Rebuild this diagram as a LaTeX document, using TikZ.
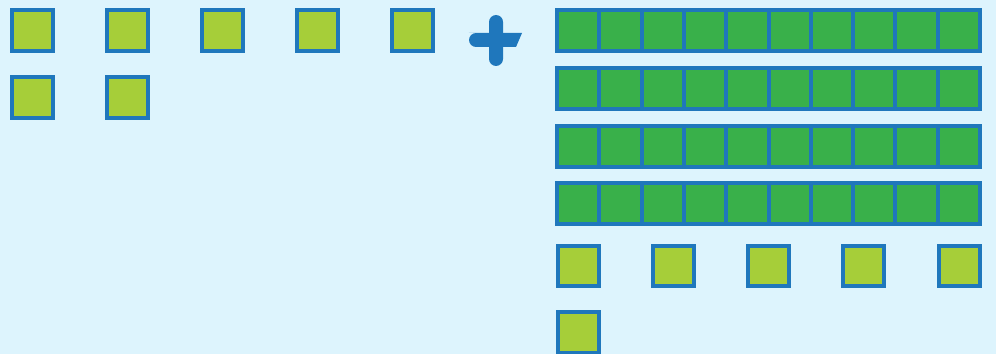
\documentclass[tikz,border=0pt]{standalone}
\definecolor{bgblue}{HTML}{DDF4FD}
\definecolor{edgeblue}{HTML}{1F77BC}
\definecolor{onegreen}{HTML}{A6CE39}
\definecolor{tengreen}{HTML}{39B04A}
\begin{document}
\begin{tikzpicture}[x=0.02cm,y=-0.02cm,
 unit/.style={draw=edgeblue,fill=onegreen,line width=0.08cm,inner sep=0pt,outer sep=0pt,minimum size=0.82cm},
 rodcell/.style={draw=edgeblue,fill=tengreen,line width=0.08cm,inner sep=0pt,outer sep=0pt,minimum width=0.846cm,minimum height=0.82cm}]
 \fill[bgblue] (0,0) rectangle (996,354);
 \useasboundingbox (0,0) rectangle (996,354);
 % first number: seven ones
 \node[unit] (a1) at (32.5,30.5) {};
 \node[unit] (a2) at (127.5,30.5) {};
 \node[unit] (a3) at (222.5,30.5) {};
 \node[unit] (a4) at (317.5,30.5) {};
 \node[unit] (a5) at (412.5,30.5) {};
 \node[unit] (a6) at (32.5,97.5) {};
 \node[unit] (a7) at (127.5,97.5) {};
 % plus sign
 \fill[edgeblue,rounded corners=4pt] (489,15) rectangle (503,66);
 \fill[edgeblue,rounded corners=4pt] (476,47) -- (469,47) -- (469,33) -- (476,33)
   [sharp corners] -- (522,33) -- (516,47) -- cycle;
 % second number: four tens
 \foreach \r in {0,...,3}
  \foreach \c in {0,...,9}
   \node[rodcell] (t\r-\c) at (578.15+42.3*\c,30.5+57.8*\r) {};
 % and six ones
 \node[unit] (b1) at (578,266) {};
 \node[unit] (b2) at (673.25,266) {};
 \node[unit] (b3) at (768.5,266) {};
 \node[unit] (b4) at (863.75,266) {};
 \node[unit] (b5) at (959,266) {};
 \node[unit] (b6) at (578,332.5) {};
\end{tikzpicture}
\end{document}
